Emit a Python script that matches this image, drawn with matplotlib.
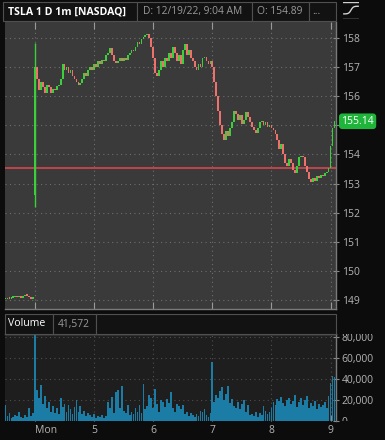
import numpy as np
import matplotlib
matplotlib.use('Agg')
import matplotlib.pyplot as plt
from matplotlib.patches import Rectangle
from matplotlib.transforms import Bbox, TransformedBbox, blended_transform_factory

plt.rcParams['font.family'] = ['Open Sans', 'DejaVu Sans']

# ---- text ----
title = 'TSLA 1 D 1m [NASDAQ]'
date_text = 'D: 12/19/22, 9:04 AM'
open_text = 'O: 154.89'
more_text = '...'
vol_name = 'Volume'
vol_last_text = '41,572'
hour_labels = ['Mon', '5', '6', '7', '8', '9']
hour_minutes = [0, 60, 120, 180, 240, 300]
price_ticks = [149, 150, 151, 152, 153, 154, 155, 156, 157, 158]
vol_ticks = [0, 20000, 40000, 60000, 80000]

# ---- data (2 minute bars, minute 0 = 4:00 AM) ----
bar_minutes = 2
ref_line = 153.52
last_price = 155.14
first_open = 152.6
first_high = 157.83
first_low = 152.2

pre_closes = [149.02, 149.05, 149.04, 149.08, 149.1, 149.12, 149.1, 149.15,
              149.08, 149.12, 149.16, 149.14, 149.1, 149.05, 149.1]
pre_volumes = [15000, 5000, 8000, 3000, 4000, 6000, 5000, 9000,
               4000, 3000, 6000, 4000, 12000, 5000, 8000]

closes = [
    157.0, 156.6, 156.2, 156.5, 156.3, 156.1, 156.4, 156.3, 156.1, 156.25,
    156.2, 156.35, 156.4, 156.6, 157.1, 156.9, 157.0, 156.8, 156.9, 156.7,
    156.6, 156.5, 156.4, 156.45, 156.6, 156.8, 156.7, 156.9, 157.0, 156.9,
    157.1, 157.0, 157.2, 157.1, 157.25, 157.2, 157.4, 157.5, 157.65, 157.4,
    157.2, 157.15, 157.2, 157.3, 157.2, 157.3, 157.25, 157.4, 157.5, 157.6,
    157.55, 157.7, 157.85, 157.8, 157.95, 158.05, 158.1, 158.15, 158.0, 157.7,
    157.3, 156.8, 156.7, 156.9, 157.2, 157.0, 157.3, 157.2, 157.5, 157.3,
    157.7, 157.5, 157.2, 157.4, 157.1, 157.6, 157.8, 157.4, 157.6, 157.3,
    157.2, 157.0, 156.9, 157.1, 157.0, 157.3, 157.35, 157.2, 157.1, 157.2,
    157.0, 156.5, 156.0, 155.5, 155.0, 154.7, 154.5, 154.8, 154.65, 154.9,
    155.1, 155.5, 155.4, 155.2, 155.35, 155.05, 155.2, 155.45, 155.3, 155.1,
    154.95, 154.85, 154.75, 154.9, 155.1, 155.15, 155.0, 155.1, 154.95, 155.0,
    154.9, 154.85, 154.7, 154.5, 154.2, 154.35, 154.0, 153.7, 153.6, 153.85,
    153.7, 153.45, 153.35, 153.6, 153.9, 153.95, 153.9, 153.6, 153.4, 153.15,
    153.05, 153.2, 153.1, 153.25, 153.2, 153.3, 153.25, 153.35, 153.4, 153.55,
    154.3, 154.9, 155.14]

volumes = [
    83000, 30000, 22000, 34000, 16000, 24000, 12000, 18000, 9000, 14000,
    8000, 12000, 7000, 22000, 13000, 16000, 9000, 15000, 11000, 7000,
    13000, 20000, 9000, 14000, 7000, 10000, 5000, 8000, 6000, 4000,
    7000, 3000, 5000, 4000, 6000, 3000, 5000, 18000, 12000, 23000,
    8000, 28000, 30000, 12000, 33000, 10000, 8000, 15000, 6000, 9000,
    7000, 12000, 9000, 15000, 8000, 35000, 11000, 14000, 25000, 22000,
    12000, 31000, 16000, 9000, 20000, 18000, 13000, 21000, 17000, 28000,
    12000, 9000, 16000, 14000, 11000, 15000, 7000, 9000, 5000, 8000,
    6000, 4000, 7000, 5000, 10000, 9000, 11000, 6000, 4000, 8000,
    56000, 18000, 25000, 22000, 29000, 32000, 20000, 26000, 33000, 17000,
    21000, 14000, 12000, 18000, 11000, 16000, 20000, 9000, 15000, 6000,
    7000, 5000, 9000, 4000, 8000, 6000, 14000, 10000, 7000, 9000,
    12000, 18000, 15000, 21000, 19000, 23000, 17000, 14000, 20000, 22000,
    16000, 19000, 25000, 13000, 18000, 22000, 15000, 20000, 24000, 12000,
    17000, 14000, 19000, 11000, 16000, 13000, 15000, 18000, 12000, 24000,
    36000, 43000, 41572]

# ---- colours ----
bg = '#0c0c0c'
panel_bg = '#3a3a3a'
vol_bg = '#1e1e1e'
up_c = '#3ccf3c'
down_c = '#ef716c'
vol_c = '#1b7ca6'
txt_c = '#b4b4b4'
grid_c = '#6e6e6e'
border_c = '#505050'

W, H = 385, 440


def fx(px):
    return px / W


def fy(py):
    return 1 - py / H


fig = plt.figure(figsize=(W / 100, H / 100), dpi=100, facecolor=bg)

# build bars
t = np.arange(len(closes)) * bar_minutes
pre_t = -bar_minutes * np.arange(len(pre_closes), 0, -1)
all_t = np.concatenate([pre_t, t])
all_c = np.array(pre_closes + closes)
all_o = np.concatenate([[pre_closes[0]], pre_closes[:-1], [first_open], closes[:-1]])
all_v = np.array(pre_volumes + volumes)

# ---- price panel ----
ax = fig.add_axes([fx(5), fy(309), fx(336) - fx(5), (309 - 22) / H])
ax.set_facecolor(panel_bg)
ax.grid(True, color=grid_c, linestyle=(0, (1, 3)), linewidth=0.8)
ax.set_axisbelow(True)
ax.axhline(ref_line, color='#c9464e', linewidth=1.3, zorder=2)
ax.vlines(0, first_low, first_high, color=up_c, linewidth=1.0, zorder=3)
heights = np.maximum(np.abs(all_c - all_o), 0.05)
bottoms = np.minimum(all_o, all_c)
colors = np.where(all_c >= all_o, up_c, down_c)
ax.bar(all_t, heights, bottom=bottoms, width=1.8, color=colors, linewidth=0, zorder=3)
ax.set_xlim(-30.5, 305.5)
ax.set_ylim(148.69, 158.55)
ax.yaxis.tick_right()
ax.set_yticks(price_ticks)
ax.tick_params(axis='y', colors=txt_c, labelsize=7.5, length=4, direction='inout', pad=2)
ax.tick_params(axis='y', color='#8a8a8a')
ax.set_xticks(hour_minutes)
ax.tick_params(axis='x', top=True, bottom=True, direction='in', length=5,
               labelbottom=False, color='#9a9a9a')
for s in ['left', 'top']:
    ax.spines[s].set_visible(False)
for s in ['right', 'bottom']:
    ax.spines[s].set_color('#7a7a7a')
    ax.spines[s].set_linewidth(1)

blend = blended_transform_factory(ax.transAxes, ax.transData)
ax.text(1.016, last_price, f'{last_price:.2f}', transform=blend, ha='left', va='center',
        color='white', fontsize=7.5, clip_on=False, zorder=5,
        bbox=dict(boxstyle='round,pad=0.22,rounding_size=0.3', fc='#1fb53b', ec='none'))

# ---- volume panel ----
vax = fig.add_axes([fx(5), fy(421), fx(336) - fx(5), (421 - 334) / H])
vax.set_facecolor(vol_bg)
vax.grid(True, color='#4e4e4e', linestyle=(0, (1, 3)), linewidth=0.8)
vax.set_axisbelow(True)
vax.bar(all_t, all_v, width=1.8, color=vol_c, linewidth=0, zorder=3)
vax.set_xlim(-30.5, 305.5)
vax.set_ylim(0, 83000)
vax.yaxis.tick_right()
vax.set_yticks(vol_ticks)
vax.set_yticklabels([f'{v:,}' for v in vol_ticks])
vax.tick_params(axis='y', colors=txt_c, labelsize=7.5, length=4, direction='inout', pad=2)
vax.tick_params(axis='y', color='#8a8a8a')
vax.set_xticks(hour_minutes)
vax.set_xticklabels(hour_labels)
vax.tick_params(axis='x', colors=txt_c, labelsize=7.5, length=4, direction='in', pad=3)
vax.tick_params(axis='x', color='#8a8a8a')
vax.get_xticklabels()[0].set_ha('left')
for s in ['left', 'bottom']:
    vax.spines[s].set_visible(False)
for s in ['right', 'top']:
    vax.spines[s].set_color('#7a7a7a')
    vax.spines[s].set_linewidth(1)

# ---- header boxes ----
def header_box(x0, x1, y0, y1):
    fig.patches.append(Rectangle((fx(x0), fy(y1)), fx(x1) - fx(x0), (y1 - y0) / H,
                                 transform=fig.transFigure, fc='#121212', ec=border_c, lw=0.8))


header_box(3, 137, 2, 21)
header_box(137, 252, 2, 21)
header_box(252, 309, 2, 21)
header_box(309, 336, 2, 21)
fig.text(fx(8), fy(11.5), title, color='white', fontsize=7.6, fontweight='bold', va='center')
fig.text(fx(143), fy(11.5), date_text, color='#9a9a9a', fontsize=7.4, va='center')
fig.text(fx(257), fy(11.5), open_text, color='#9a9a9a', fontsize=7.4, va='center')
fig.text(fx(312), fy(11.5), more_text, color='#9a9a9a', fontsize=7.4, va='center')

header_box(5, 53, 314, 334)
header_box(53, 96, 314, 334)
header_box(96, 336, 314, 334)
fig.text(fx(8), fy(324), vol_name, color='white', fontsize=7.6, va='center')
fig.text(fx(58), fy(324), vol_last_text, color='#9a9a9a', fontsize=7.4, va='center')

# ---- small curve icon ----
iax = fig.add_axes([fx(343), fy(19), fx(359) - fx(343), 17 / H])
iax.set_xlim(0, 1)
iax.set_ylim(0, 1)
iax.axis('off')
iax.plot([0, 1], [1, 1], color='#d0d0d0', lw=1)
iax.plot([0, 1], [0, 0], color='#d0d0d0', lw=1)
cx = np.linspace(0.05, 0.95, 30)
iax.plot(cx, 0.3 + 0.45 * (np.tanh((cx - 0.5) * 7) + 1) / 2, color='#d0d0d0', lw=1)

# clip the volume axis labels to the panel height, as in the reference
fig.canvas.draw()
clip = TransformedBbox(Bbox([[1.0, 0.0], [1.5, 1.0]]), vax.transAxes)
for tick in vax.yaxis.get_major_ticks():
    tick.label2.set_clip_box(clip)
    tick.label2.set_clip_on(True)

fig.savefig('out.png', dpi=100, facecolor=bg)
